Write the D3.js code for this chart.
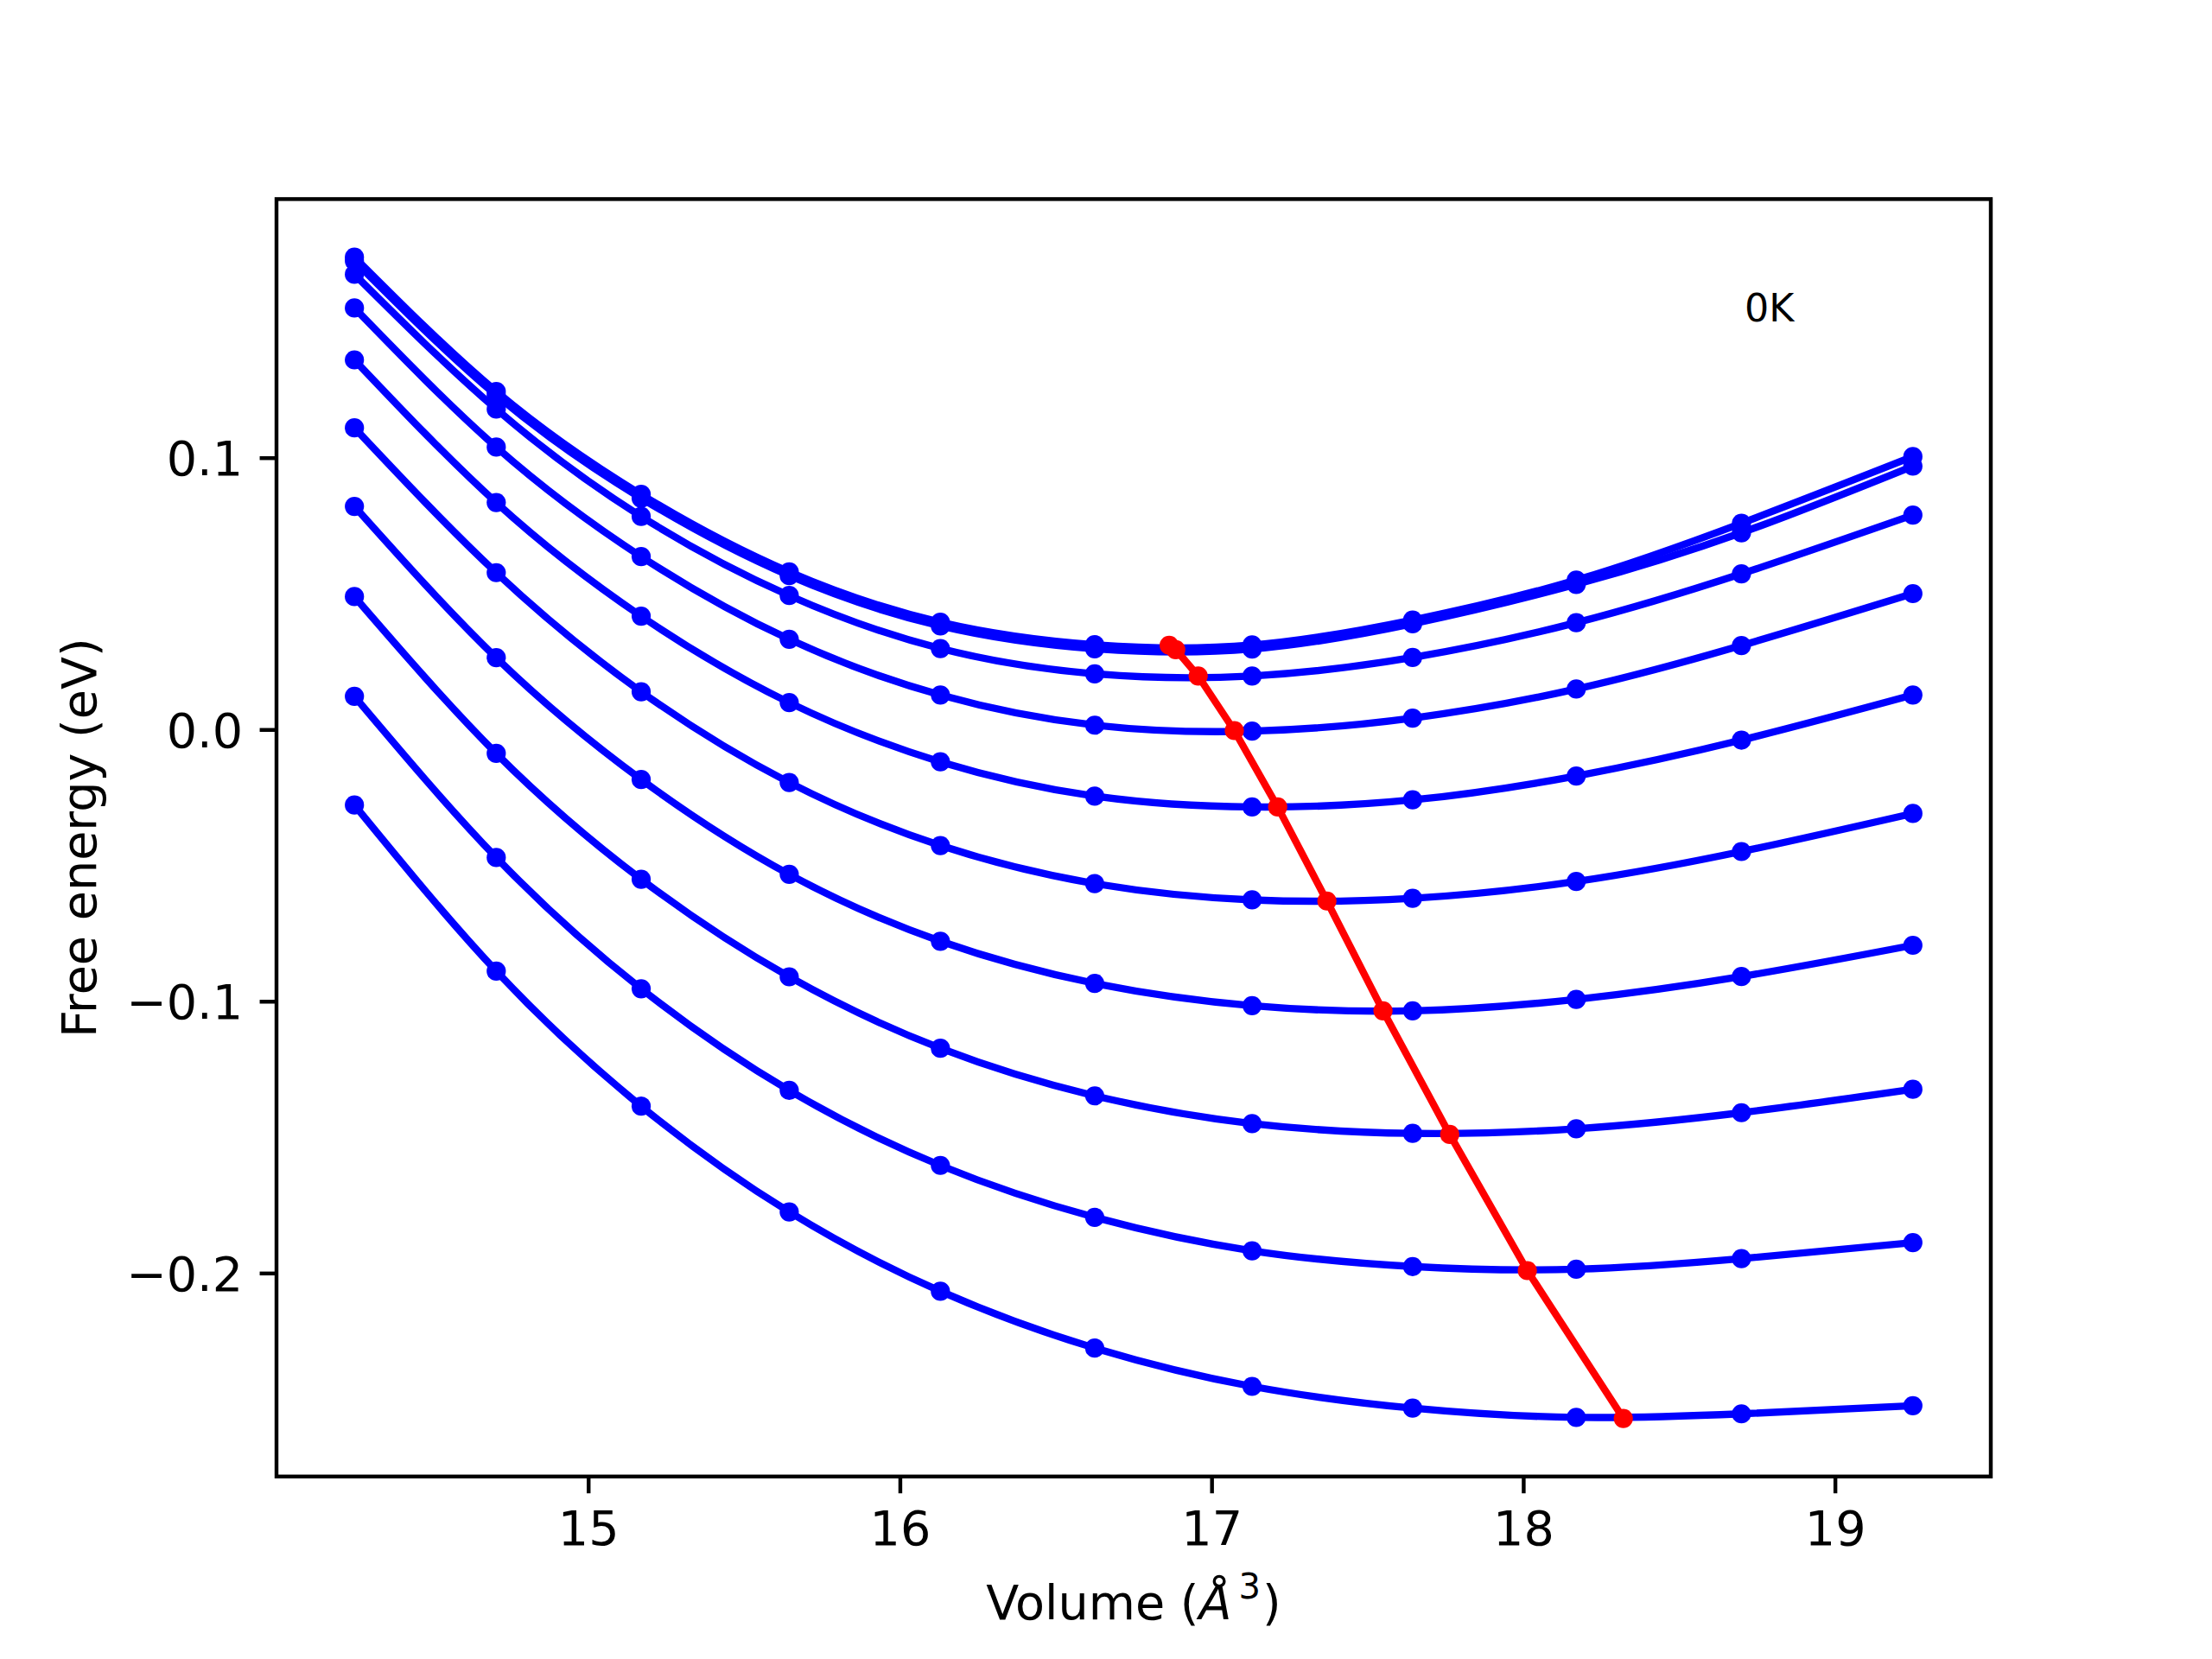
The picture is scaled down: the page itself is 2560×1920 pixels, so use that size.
<!DOCTYPE html>
<html>
<head>
<meta charset="utf-8">
<script src="https://cdn.jsdelivr.net/npm/d3@7"></script>
<style>
  html, body { margin: 0; padding: 0; background: #ffffff; }
  svg { display: block; }
  text { font-family: "DejaVu Sans", sans-serif; fill: #000; }
</style>
</head>
<body>
<svg id="chart" width="2560" height="1920"></svg>
<script>
// ---------------- DATA ----------------
const volumes = [14.25, 14.705, 15.17, 15.645, 16.13, 16.625, 17.13, 17.645, 18.17, 18.70, 19.25];

const curve1  = [0.1738, 0.1244, 0.0865, 0.0580, 0.0395, 0.0312, 0.0311, 0.0403, 0.0550, 0.0759, 0.1004];
const curve2  = [0.1724, 0.1230, 0.0851, 0.0566, 0.0381, 0.0297, 0.0296, 0.0389, 0.0534, 0.0724, 0.0969];
const curve3  = [0.1675, 0.1179, 0.0784, 0.0493, 0.0298, 0.0205, 0.0197, 0.0265, 0.0393, 0.0573, 0.0789];
const curve4  = [0.1551, 0.1039, 0.0636, 0.0332, 0.0127, 0.0016, -0.0006, 0.0042, 0.0149, 0.0309, 0.0500];
const curve5  = [0.1360, 0.0835, 0.0417, 0.0099, -0.0119, -0.0245, -0.0285, -0.0259, -0.0171, -0.0039, 0.0127];
const curve6  = [0.1110, 0.0577, 0.0139, -0.0195, -0.0427, -0.0567, -0.0627, -0.0621, -0.0559, -0.0449, -0.0309];
const curve7  = [0.0821, 0.0264, -0.0184, -0.0533, -0.0779, -0.0934, -0.1016, -0.1035, -0.0993, -0.0909, -0.0794];
const curve8  = [0.0489, -0.0088, -0.0551, -0.0910, -0.1173, -0.1348, -0.1450, -0.1486, -0.1469, -0.1410, -0.1324];
const curve9  = [0.0122, -0.0471, -0.0954, -0.1328, -0.1604, -0.1795, -0.1918, -0.1976, -0.1986, -0.1947, -0.1888];
const curve10 = [-0.0278, -0.0889, -0.1386, -0.1775, -0.2067, -0.2276, -0.2417, -0.2497, -0.2531, -0.2518, -0.2488];
const curves = [curve1, curve2, curve3, curve4, curve5, curve6, curve7, curve8, curve9, curve10];

const minVolumes  = [16.864, 16.885, 16.957, 17.073, 17.212, 17.370, 17.550, 17.764, 18.013, 18.321];
const minEnergies = [0.0310, 0.0294, 0.0197, -0.0004, -0.0285, -0.0631, -0.1035, -0.1490, -0.1991, -0.2535];

const xTicks = [15, 16, 17, 18, 19];
const xTickLabels = ["15", "16", "17", "18", "19"];
const yTicks = [-0.2, -0.1, 0.0, 0.1];
const yTickLabels = ["\u22120.2", "\u22120.1", "0.0", "0.1"];

const annotationText = "0K";
const annotationV = 18.71;
const annotationF = 0.15;

const xLabelText = "Volume (";
const yLabelText = "Free energy (eV)";

// ---------------- LAYOUT ----------------
const W = 2560, H = 1920;
const axL = 320, axR = 2304, axT = 230.4, axB = 1708.8;
const fontPx = 55.6;      // 10pt at 400 dpi
const lw = 8.33;          // 1.5pt
const markerR = 11.1;     // markersize 4
const spineW = 4.44;      // 0.8pt
const tickLen = 19.44;    // 3.5pt

const svg = d3.select("#chart");
svg.append("rect").attr("width", W).attr("height", H).attr("fill", "#fff");

// autoscale with 5% margins like matplotlib
const allV = volumes.concat(minVolumes);
const allF = curves.flat().concat(minEnergies);
const vMin = d3.min(allV), vMax = d3.max(allV);
const fMin = d3.min(allF), fMax = d3.max(allF);
const dv = vMax - vMin, df = fMax - fMin;

const x = d3.scaleLinear().domain([vMin - 0.05 * dv, vMax + 0.05 * dv]).range([axL, axR]);
const y = d3.scaleLinear().domain([fMin - 0.05 * df, fMax + 0.05 * df]).range([axB, axT]);

const plot = svg.append("g");

const line = d3.line()
  .x(d => x(d[0]))
  .y(d => y(d[1]))
  .curve(d3.curveNatural);

curves.forEach(c => {
  const pts = volumes.map((v, i) => [v, c[i]]);
  plot.append("path")
    .attr("d", line(pts))
    .attr("fill", "none")
    .attr("stroke", "#0000ff")
    .attr("stroke-width", lw)
    .attr("stroke-linejoin", "round")
    .attr("stroke-linecap", "butt");
  plot.append("g").selectAll("circle")
    .data(pts).enter().append("circle")
    .attr("cx", d => x(d[0]))
    .attr("cy", d => y(d[1]))
    .attr("r", markerR)
    .attr("fill", "#0000ff");
});

// minima path (straight segments)
const minPts = minVolumes.map((v, i) => [v, minEnergies[i]]);
plot.append("path")
  .attr("d", d3.line().x(d => x(d[0])).y(d => y(d[1]))(minPts))
  .attr("fill", "none")
  .attr("stroke", "#ff0000")
  .attr("stroke-width", lw)
  .attr("stroke-linejoin", "round");
plot.append("g").selectAll("circle")
  .data(minPts).enter().append("circle")
  .attr("cx", d => x(d[0]))
  .attr("cy", d => y(d[1]))
  .attr("r", markerR)
  .attr("fill", "#ff0000");

// annotation
svg.append("text")
  .attr("x", x(annotationV))
  .attr("y", y(annotationF))
  .attr("font-size", 44.4)
  .text(annotationText);

// axes
const xAxis = d3.axisBottom(x)
  .tickValues(xTicks)
  .tickFormat((d, i) => xTickLabels[i])
  .tickSize(tickLen)
  .tickPadding(20.3);
const gx = svg.append("g").attr("transform", `translate(0,${axB})`).call(xAxis);
gx.select(".domain").remove();
gx.selectAll(".tick line").attr("stroke", "#000").attr("stroke-width", spineW);
gx.selectAll(".tick text").attr("font-size", fontPx).attr("font-family", "DejaVu Sans").attr("fill", "#000");

const yAxis = d3.axisLeft(y)
  .tickValues(yTicks)
  .tickFormat((d, i) => yTickLabels[i])
  .tickSize(tickLen)
  .tickPadding(19.4);
const gy = svg.append("g").attr("transform", `translate(${axL},0)`).call(yAxis);
gy.select(".domain").remove();
gy.selectAll(".tick line").attr("stroke", "#000").attr("stroke-width", spineW);
gy.selectAll(".tick text").attr("font-size", fontPx).attr("font-family", "DejaVu Sans")
  .attr("fill", "#000").attr("dy", "0.36em");

// frame
svg.append("rect")
  .attr("x", axL).attr("y", axT)
  .attr("width", axR - axL).attr("height", axB - axT)
  .attr("fill", "none").attr("stroke", "#000").attr("stroke-width", spineW)
  .attr("stroke-linejoin", "miter");

// x label
const xl = svg.append("text")
  .attr("x", (axL + axR) / 2)
  .attr("y", 1874)
  .attr("text-anchor", "middle")
  .attr("font-size", fontPx);
xl.append("tspan").text(xLabelText);
xl.append("tspan").attr("font-style", "italic").text("\u00C5");
xl.append("tspan").attr("font-size", fontPx * 0.72).attr("dx", 8).attr("dy", -24).text("3");
xl.append("tspan").attr("dx", 2).attr("dy", 24).text(")");

// y label
svg.append("text")
  .attr("transform", `translate(111,${(axT + axB) / 2}) rotate(-90)`)
  .attr("text-anchor", "middle")
  .attr("font-size", fontPx)
  .text(yLabelText);
</script>
</body>
</html>
